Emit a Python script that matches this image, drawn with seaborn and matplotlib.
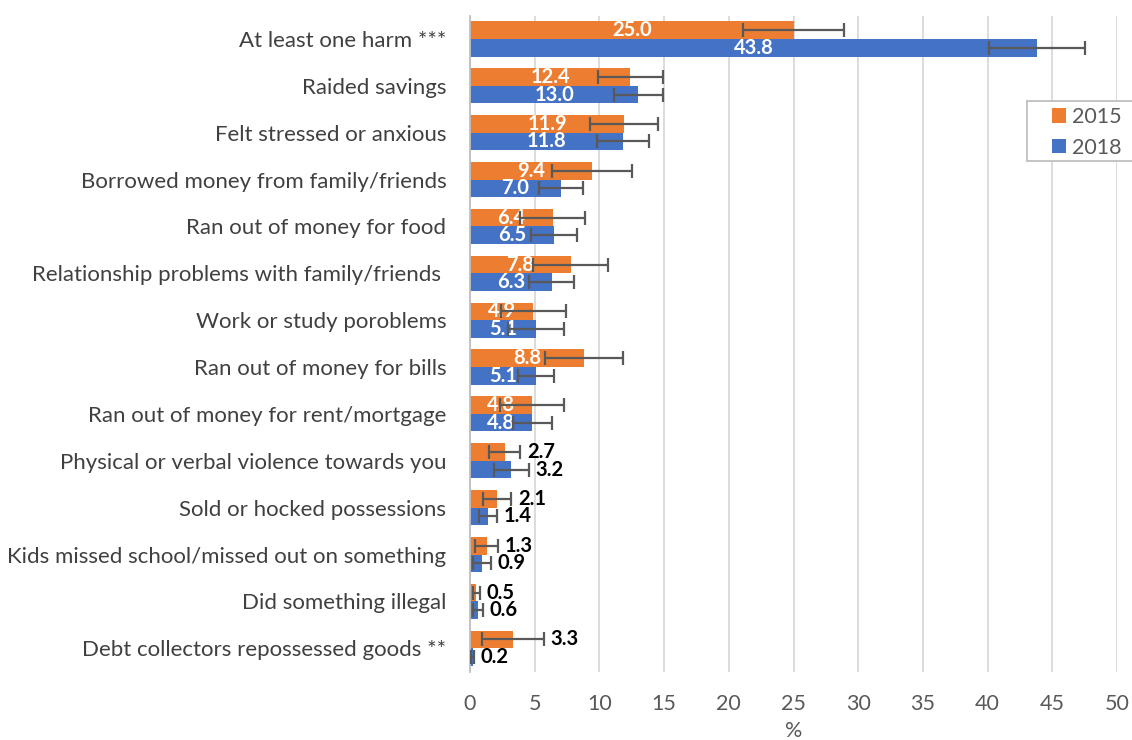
import numpy as np
import pandas as pd
import matplotlib.pyplot as plt
import seaborn as sns
from matplotlib.patches import Rectangle

categories = [
    'At least one harm ***',
    'Raided savings',
    'Felt stressed or anxious',
    'Borrowed money from family/friends',
    'Ran out of money for food',
    'Relationship problems with family/friends ',
    'Work or study poroblems',
    'Ran out of money for bills',
    'Ran out of money for rent/mortgage',
    'Physical or verbal violence towards you',
    'Sold or hocked possessions',
    'Kids missed school/missed out on something',
    'Did something illegal',
    'Debt collectors repossessed goods **',
]
years = ['2015', '2018']
vals_2015 = [25.0, 12.4, 11.9, 9.4, 6.4, 7.8, 4.9, 8.8, 4.8, 2.7, 2.1, 1.3, 0.5, 3.3]
vals_2018 = [43.8, 13.0, 11.8, 7.0, 6.5, 6.3, 5.1, 5.1, 4.8, 3.2, 1.4, 0.9, 0.6, 0.2]
err_2015 = [3.9, 2.5, 2.6, 3.1, 2.5, 2.9, 2.5, 3.0, 2.5, 1.2, 1.1, 0.9, 0.3, 2.4]
err_2018 = [3.7, 1.9, 2.0, 1.7, 1.8, 1.75, 2.2, 1.4, 1.5, 1.35, 0.7, 0.7, 0.4, 0.1]

colors = {'2015': '#ED7D31', '2018': '#4472C4'}

df = pd.DataFrame({
    'harm': categories * 2,
    'year': ['2015'] * len(categories) + ['2018'] * len(categories),
    'pct': vals_2015 + vals_2018,
    'err': err_2015 + err_2018,
})

sns.set_style('white')
plt.rcParams['font.family'] = ['Lato', 'DejaVu Sans']

fig = plt.figure(figsize=(11.32, 7.4), dpi=100)
ax = fig.add_axes([0.4152, 0.0923, 0.5716, 0.8867])

sns.barplot(ax=ax, data=df, y='harm', x='pct', hue='year', orient='h',
            palette=colors, hue_order=years, order=categories,
            errorbar=None, width=0.75, saturation=1, edgecolor='none')

# error bars and value labels, positioned from the drawn bars
for cont, errs, vals in zip(ax.containers, [err_2015, err_2018], [vals_2015, vals_2018]):
    ys = [b.get_y() + b.get_height() / 2 for b in cont]
    ws = [b.get_width() for b in cont]
    ax.errorbar(ws, ys, xerr=errs, fmt='none', ecolor='#595959',
                elinewidth=1.6, capsize=5, capthick=1.6, zorder=3)
    for y, w, e, v in zip(ys, ws, errs, vals):
        if v >= 4.5:
            ax.text(w / 2, y, f'{v:.1f}', color='white', fontweight='bold',
                    fontsize=14.5, ha='center', va='center', zorder=2.5)
        else:
            ax.text(w + e + 0.5, y, f'{v:.1f}', color='black', fontweight='bold',
                    fontsize=14.5, ha='left', va='center', zorder=4)

ax.set_xlim(0, 50)
ax.set_xticks(np.arange(0, 51, 5))
ax.set_ylim(len(categories) - 0.5, -0.5)
ax.grid(True, axis='x', color='#d9d9d9', linewidth=1.3)
ax.set_axisbelow(True)
for s in ['top', 'right', 'bottom']:
    ax.spines[s].set_visible(False)
ax.spines['left'].set_color('#bfbfbf')
ax.spines['left'].set_linewidth(1.3)
ax.tick_params(axis='x', labelsize=15.5, colors='#595959', length=0, pad=16)
ax.tick_params(axis='y', labelsize=16, labelcolor='#404040', length=0, pad=17)
ax.set_xlabel('%', fontsize=15.5, color='#595959', labelpad=5)
ax.set_ylabel('')

# legend box (runs off the right edge like the original)
handles, labels = ax.get_legend_handles_labels()
ax.get_legend().remove()
fig.patches.append(Rectangle((1027 / 1132, 1 - 161 / 740), 0.12, 60 / 740,
                             transform=fig.transFigure, facecolor='white',
                             edgecolor='#bfbfbf', linewidth=1.3, zorder=5))
leg = fig.legend(handles, labels, loc='upper left',
                 bbox_to_anchor=(1052 / 1132, 1 - 107 / 740),
                 fontsize=15.5, frameon=False,
                 handlelength=0.65, handleheight=0.65, handletextpad=0.3,
                 borderpad=0, borderaxespad=0, labelspacing=0.5,
                 labelcolor='#595959')
leg.set_zorder(6)

fig.savefig('out.png', dpi=100)
